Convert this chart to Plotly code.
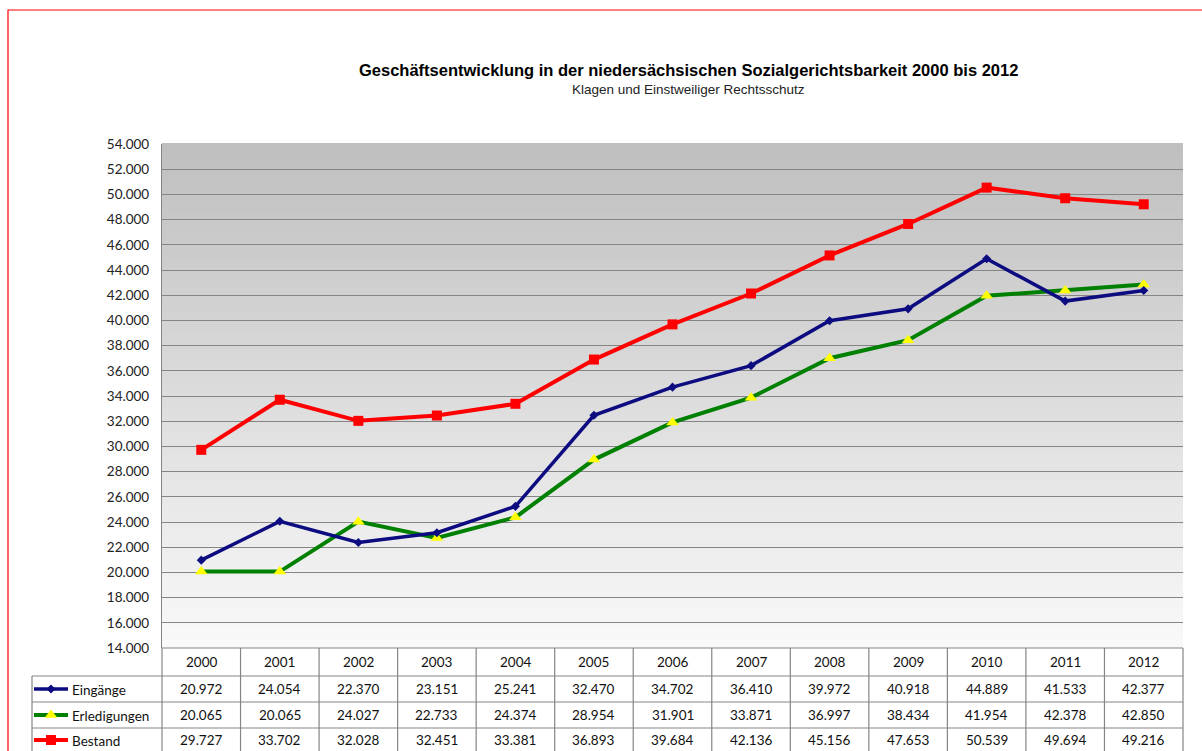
import plotly.graph_objects as go

years = ["2000", "2001", "2002", "2003", "2004", "2005", "2006", "2007", "2008", "2009", "2010", "2011", "2012"]
eingaenge = [20972, 24054, 22370, 23151, 25241, 32470, 34702, 36410, 39972, 40918, 44889, 41533, 42377]
erledigungen = [20065, 20065, 24027, 22733, 24374, 28954, 31901, 33871, 36997, 38434, 41954, 42378, 42850]
bestand = [29727, 33702, 32028, 32451, 33381, 36893, 39684, 42136, 45156, 47653, 50539, 49694, 49216]
series_names = ["Eingänge", "Erledigungen", "Bestand"]

title = "Geschäftsentwicklung in der niedersächsischen Sozialgerichtsbarkeit 2000 bis 2012"
subtitle = "Klagen und Einstweiliger Rechtsschutz"

W, H = 1202, 751
PX0, PX1 = 162, 1183   # plot area pixels
PY0, PY1 = 144, 648

def fmt(v):
    return f"{v:,}".replace(",", ".")

styles = {
    "Eingänge": dict(color="#0c0c80", width=3.5, symbol="diamond", msize=7, mcolor="#0c0c80"),
    "Erledigungen": dict(color="#008000", width=4, symbol="triangle-up", msize=11, mcolor="#ffff00"),
    "Bestand": dict(color="#ff0000", width=4, symbol="square", msize=10, mcolor="#ff0000"),
}
data = {"Eingänge": eingaenge, "Erledigungen": erledigungen, "Bestand": bestand}

fig = go.Figure()

for name in ["Bestand", "Erledigungen", "Eingänge"]:
    s = styles[name]
    fig.add_trace(go.Scatter(
        x=years, y=data[name], mode="lines+markers", name=name,
        line=dict(color=s["color"], width=s["width"]),
        marker=dict(symbol=s["symbol"], size=s["msize"], color=s["mcolor"], line=dict(width=0)),
        xaxis="x", yaxis="y", showlegend=False, hoverinfo="x+y",
    ))

# legend samples inside the table (pixel overlay axes)
row_y = [689, 715, 740]
for name, ry in zip(series_names, row_y):
    s = styles[name]
    fig.add_trace(go.Scatter(
        x=[34, 68], y=[ry, ry], mode="lines", line=dict(color=s["color"], width=s["width"]),
        xaxis="x2", yaxis="y2", showlegend=False, hoverinfo="skip"))
    fig.add_trace(go.Scatter(
        x=[51], y=[ry], mode="markers",
        marker=dict(symbol=s["symbol"], size=s["msize"], color=s["mcolor"], line=dict(width=0)),
        xaxis="x2", yaxis="y2", showlegend=False, hoverinfo="skip"))

shapes = []
# gradient background of plot area
N = 80
for i in range(N):
    t = i / (N - 1)
    c = int(round(191 + (249 - 191) * t))
    shapes.append(dict(type="rect", xref="x domain", yref="y domain",
                       x0=0, x1=1, y0=1 - (i + 1) / N, y1=1 - i / N + 0.002,
                       fillcolor=f"rgb({c},{c},{c})", line=dict(width=0), layer="below"))

# red page frame
shapes.append(dict(type="rect", xref="x2", yref="y2", x0=8, x1=1260, y0=10, y1=800,
                   line=dict(color="#ff0000", width=1.2), fillcolor="rgba(0,0,0,0)"))

grid = "#858585"
ncol = len(years)
colw = (PX1 - PX0) / ncol
row_lines = [PY1, 676, 702, 728, 760]
shapes.append(dict(type="line", xref="x2", yref="y2", x0=PX0, x1=PX1, y0=PY1, y1=PY1, line=dict(color=grid, width=1.2)))
for yl in row_lines[1:]:
    shapes.append(dict(type="line", xref="x2", yref="y2", x0=32, x1=PX1, y0=yl, y1=yl, line=dict(color=grid, width=1.2)))
shapes.append(dict(type="line", xref="x2", yref="y2", x0=32, x1=32, y0=676, y1=760, line=dict(color=grid, width=1.2)))
for i in range(ncol + 1):
    xv = PX0 + i * colw
    shapes.append(dict(type="line", xref="x2", yref="y2", x0=xv, x1=xv, y0=PY1, y1=760, line=dict(color=grid, width=1.2)))

annotations = [
    dict(text=f"<b>{title}</b>", x=688, y=70, xref="x2", yref="y2", showarrow=False,
         font=dict(family="Liberation Sans, Arial", size=16.5, color="#000000")),
    dict(text=subtitle, x=688, y=89, xref="x2", yref="y2", showarrow=False,
         font=dict(family="Liberation Sans, Arial", size=13.5, color="#222222")),
]
tfont = dict(family="Lato, Open Sans, sans-serif", size=13.5, color="#111111")
for i, yr in enumerate(years):
    xc = PX0 + (i + 0.5) * colw
    annotations.append(dict(text=yr, x=xc, y=662, xref="x2", yref="y2", showarrow=False, font=tfont))
    for name, ry in zip(series_names, row_y):
        annotations.append(dict(text=fmt(data[name][i]), x=xc, y=ry, xref="x2", yref="y2",
                                showarrow=False, font=tfont))
for name, ry in zip(series_names, row_y):
    annotations.append(dict(text=name, x=70, y=ry + 1, xref="x2", yref="y2", showarrow=False,
                            xanchor="left", font=tfont))

tickvals = list(range(14000, 54001, 2000))
fig.update_layout(
    width=W, height=H, margin=dict(l=0, r=0, t=0, b=0, pad=0, autoexpand=False),
    paper_bgcolor="#ffffff", plot_bgcolor="rgba(0,0,0,0)",
    separators=",.", showlegend=False,
    xaxis=dict(domain=[PX0 / W, PX1 / W], range=[-0.5, ncol - 0.5], type="category",
               showticklabels=False, showgrid=False, zeroline=False, showline=False, ticks="",
               automargin=False),
    yaxis=dict(domain=[1 - PY1 / H, 1 - PY0 / H], range=[14000, 54000], tickvals=tickvals,
               ticktext=[fmt(v) for v in tickvals], automargin=False,
               showgrid=True, gridcolor=grid, gridwidth=1.3, zeroline=False,
               showline=True, linecolor=grid, linewidth=1.3, ticks="outside", ticklen=9,
               tickcolor="rgba(0,0,0,0)",
               tickfont=dict(family="Lato, Open Sans, sans-serif", size=13.5, color="#222222")),
    xaxis2=dict(domain=[0, 1], range=[0, W], anchor="y2", visible=False, fixedrange=True, automargin=False),
    yaxis2=dict(domain=[0, 1], range=[H, 0], anchor="x2", visible=False, fixedrange=True, automargin=False),
    shapes=shapes, annotations=annotations,
)

fig.write_html(
    "out.html",
    config={"displayModeBar": False},
    post_script="document.body.style.margin='0';document.body.style.overflow='hidden';",
)
